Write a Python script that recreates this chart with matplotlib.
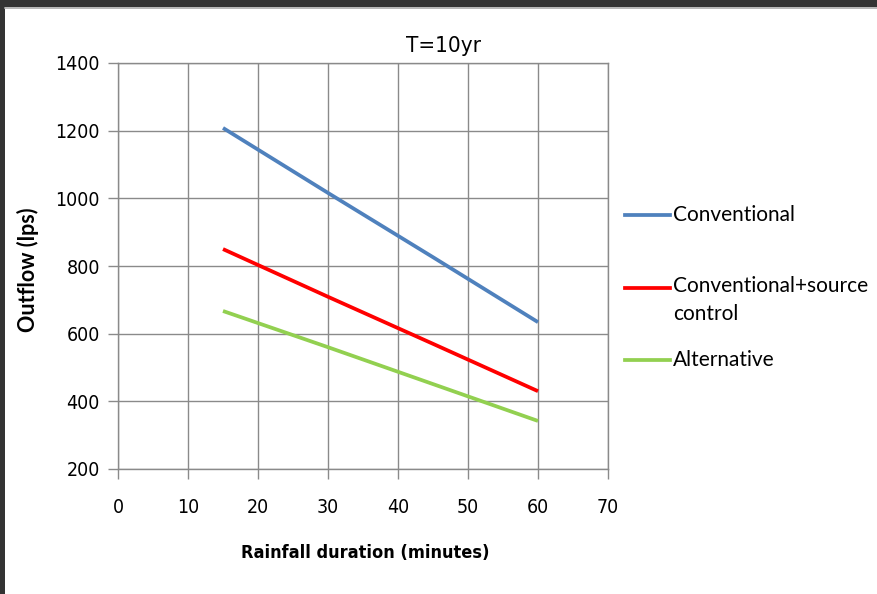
import matplotlib
matplotlib.use("Agg")
import matplotlib.pyplot as plt
from matplotlib.lines import Line2D
from matplotlib.patches import Rectangle
from matplotlib import font_manager as fm

# Data
durations = [15, 30, 45, 60]
conventional = [1208, 1016, 826, 634]
conv_source = [850, 709, 570, 430]
alternative = [667, 560, 451, 342]
series_names = ["Conventional", "Conventional+source\ncontrol", "Alternative"]
colors = ["#4F81BD", "#FF0000", "#92D050"]
title = "T=10yr"
xlabel = "Rainfall duration (minutes)"
ylabel = "Outflow (lps)"
xticks = [0, 10, 20, 30, 40, 50, 60, 70]
yticks = [200, 400, 600, 800, 1000, 1200, 1400]

# find a condensed font if available
cond_path = None
cond_bold_path = None
for f in fm.findSystemFonts():
    low = f.lower()
    if "dejavusanscondensed.ttf" in low:
        cond_path = f
    if "dejavusanscondensed-bold.ttf" in low:
        cond_bold_path = f
if cond_path:
    cond = fm.FontProperties(fname=cond_path, size=13)
else:
    cond = fm.FontProperties(family="DejaVu Sans", stretch="condensed", size=13)
if cond_bold_path:
    cond_b = fm.FontProperties(fname=cond_bold_path, size=13)
else:
    cond_b = fm.FontProperties(family="DejaVu Sans", stretch="condensed", weight="bold", size=13)

W, H = 877, 594
fig = plt.figure(figsize=(W / 100, H / 100), dpi=100)
fig.patch.set_facecolor("white")

fig.add_artist(Rectangle((0, 1 - 7 / H), 1, 7 / H, transform=fig.transFigure,
                         facecolor="#333333", edgecolor="none", zorder=0))
fig.add_artist(Rectangle((0, 0), 5 / W, 1, transform=fig.transFigure,
                         facecolor="#333333", edgecolor="none", zorder=0))
fig.add_artist(Line2D([5 / W, 1], [1 - 8 / H, 1 - 8 / H], transform=fig.transFigure,
                      color="#aaaaaa", lw=1.2))

ax = fig.add_axes([118 / W, (H - 469) / H, (608 - 118) / W, (469 - 63) / H])
grid_c = "#8a8a8a"
for s in ax.spines.values():
    s.set_color(grid_c)
    s.set_linewidth(1.0)
ax.grid(True, color=grid_c, linewidth=1.0)
ax.set_axisbelow(True)

all_series = [conventional, conv_source, alternative]
for vals, c in zip(all_series, colors):
    ax.plot(durations, vals, color=c, lw=2.7, solid_capstyle="butt")

ax.set_xlim(0, 70)
ax.set_ylim(200, 1400)
ax.set_xticks(xticks)
ax.set_yticks(yticks)
tp = cond.copy()
tp.set_size(14)
ax.set_xticklabels([str(t) for t in xticks], fontproperties=tp)
ax.set_yticklabels([str(t) for t in yticks], fontproperties=tp)
ax.tick_params(axis="both", colors=grid_c, labelcolor="black", direction="out",
               length=7, width=1.0)
ax.tick_params(axis="x", pad=14)
ax.tick_params(axis="y", pad=6)

ttp = cond.copy()
ttp.set_size(16)
fig.text(443 / W, 1 - 46 / H, title, ha="center", va="center", fontproperties=ttp)
xlp = cond_b.copy()
xlp.set_size(13)
fig.text(365 / W, 1 - 553 / H, xlabel, ha="center", va="center", fontproperties=xlp)
fig.text(28 / W, 1 - 270 / H, ylabel, ha="center", va="center", rotation=90,
         family="Lato", size=15.5, weight="bold")

leg_y = [215, 288, 360]
for name, c, yy in zip(series_names, colors, leg_y):
    yf = 1 - yy / H
    fig.add_artist(Line2D([625 / W, 670 / W], [yf, yf], transform=fig.transFigure,
                          color=c, lw=2.7))
    if "\n" in name:
        fig.text(673 / W, 1 - (yy - 12) / H, name, ha="left", va="top",
                 family="Lato", size=15, linespacing=1.5)
    else:
        fig.text(673 / W, yf, name, ha="left", va="center", family="Lato", size=15)

fig.savefig("out.png", dpi=100)
